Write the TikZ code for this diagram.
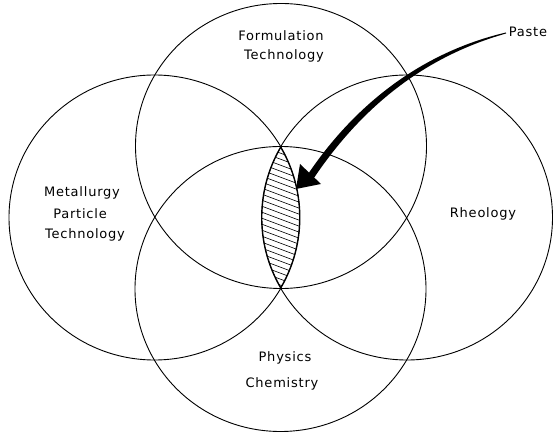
\documentclass[tikz,border=0pt]{standalone}
\usepackage{fontspec}
\setmainfont{DejaVu Sans}[LetterSpace=6]
\begin{document}
\begin{tikzpicture}[x=1pt,y=-1pt,
  ring/.style={draw=black,line width=0.9pt},
  lbl/.style={anchor=base,inner sep=0pt,font=\fontsize{13}{15}\selectfont},
  hatchline/.style={line width=0.6pt},
]
\useasboundingbox (0,0) rectangle (554,435);
\fill[white] (0,0) rectangle (554,435);
% circles
\coordinate (cT) at (281,146);
\coordinate (cB) at (280.5,289);
\coordinate (cL) at (154.5,217.5);
\coordinate (cR) at (407,217.5);
\draw[ring] (cT) ellipse [x radius=145.5pt, y radius=142.5pt];
\draw[ring] (cB) ellipse [x radius=145.5pt, y radius=142.5pt];
\draw[ring] (cL) ellipse [x radius=145.5pt, y radius=142.5pt];
\draw[ring] (cR) ellipse [x radius=145.5pt, y radius=142.5pt];
% hatched lens
\begin{scope}
  \clip (cL) ellipse [x radius=145.5pt, y radius=142.5pt];
  \clip (cR) ellipse [x radius=145.5pt, y radius=142.5pt];
  \foreach \k in {0,...,30} {
    \draw[hatchline] (240,{120+6*\k}) -- (320,{120+6*\k+30});
  }
  \draw[line width=1.9pt] (cL) ellipse [x radius=145.5pt, y radius=142.5pt];
  \draw[line width=1.9pt] (cR) ellipse [x radius=145.5pt, y radius=142.5pt];
\end{scope}
% labels
\node[lbl] (form1) at (281,41) {Formulation};
\node[lbl] (form2) at (284,60) {Technology};
\node[lbl] (met1) at (82,197) {Metallurgy};
\node[lbl] (met2) at (80,219) {Particle};
\node[lbl] (met3) at (85,239) {Technology};
\node[lbl] (rheo) at (483,218) {Rheology};
\node[lbl] (phys) at (285,362) {Physics};
\node[lbl] (chem) at (282,387) {Chemistry};
\node[lbl] (paste) at (528,37) {Paste};
% arrow (tapered)
\coordinate (tip) at (296,189);
\fill[black] (505.9,32.5) .. controls (418.4,53.1) and (352.9,107.6) .. (308.1,174.0)
  -- (313.9,178.0) .. controls (358.7,111.6) and (419.6,57.9) .. (506.1,33.5) -- cycle;
\fill[black] (300,164) -- (tip) -- (321,184) -- cycle;
\end{tikzpicture}
\end{document}
